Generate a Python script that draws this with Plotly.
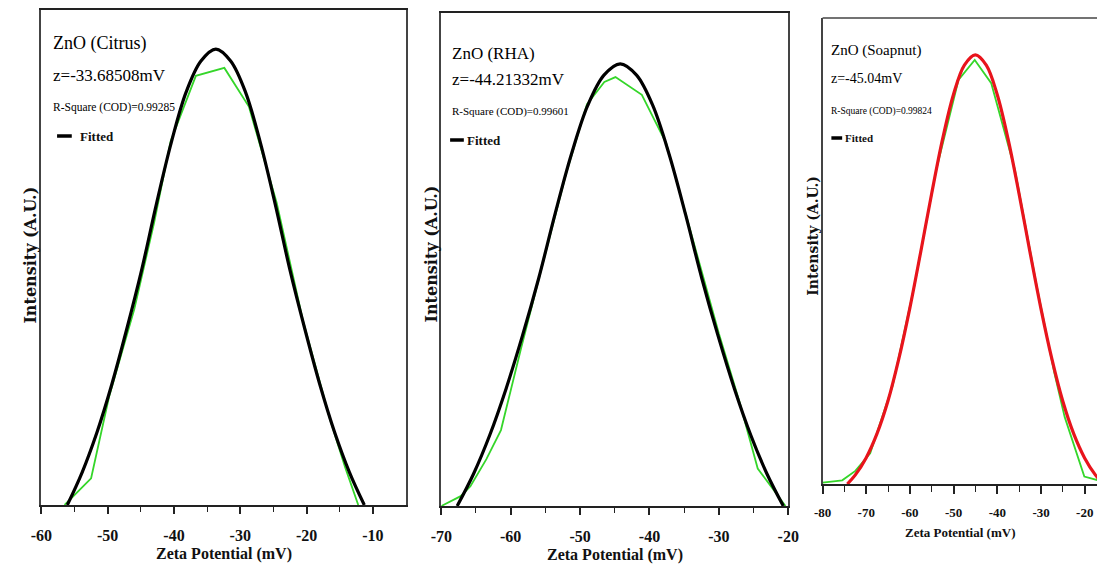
import plotly.graph_objects as go

# ---------------- data ----------------
# ZnO (Citrus): measured zeta distribution and Gaussian fit
citrus_x = [-56.5, -52.5, -49.8, -46.0, -43.0, -40.5, -36.7, -32.4, -28.7, -24.5, -20.5, -16.5, -14.2, -12.2]
citrus_y = [0, 5.4, 21.8, 39.5, 57.0, 73.5, 86.7, 88.3, 80.5, 61.0, 37.0, 17.5, 7.7, 0]
citrus_fit_x = [-56.09, -53.85, -51.61, -49.37, -47.13, -44.89, -42.65, -40.41, -38.17, -35.93, -33.685,
                -31.45, -29.21, -26.97, -24.73, -22.49, -20.25, -18.01, -15.77, -13.53, -11.29]
citrus_fit_y = [0, 6.6, 14.7, 24.4, 35.5, 47.4, 60.8, 73.2, 83.4, 89.7, 92.1,
                89.7, 83.4, 73.2, 60.8, 47.4, 35.5, 24.4, 14.7, 6.6, 0]

# ZnO (RHA)
rha_x = [-70, -67.2, -65.8, -63.5, -61.4, -58.5, -55.5, -52, -49, -46.5, -44.9, -41.1, -37.6, -34, -30, -27, -24.4, -20.4]
rha_y = [0, 2.0, 4.0, 9.5, 15.4, 32, 48.5, 67.5, 81.5, 86.0, 87.0, 83.4, 73.6, 55.5, 35, 21, 7.6, 0]
rha_fit_x = [-67.71, -65.36, -63.01, -60.66, -58.31, -55.96, -53.61, -51.26, -48.91, -46.56, -44.213,
             -41.86, -39.51, -37.16, -34.81, -32.46, -30.11, -27.76, -25.41, -23.06, -20.71]
rha_fit_y = [0, 6.5, 14.4, 23.8, 34.5, 46.2, 59.2, 71.3, 81.2, 87.4, 89.7,
             87.4, 81.2, 71.3, 59.2, 46.2, 34.5, 23.8, 14.4, 6.5, 0]

# ZnO (Soapnut)
soap_x = [-80, -75.5, -72.5, -69.1, -64, -59, -54, -48.9, -45.18, -41.4, -36, -31, -27, -24.6, -20.1, -17]
soap_y = [0.3, 0.8, 2.8, 6.6, 21.0, 42.5, 67.3, 86.7, 91.0, 86.0, 67.5, 42.5, 24.0, 14.4, 1.6, 0.8]
soap_fit_x = [-74.34, -72.54, -70.04, -67.54, -65.04, -62.54, -60.04, -57.54, -55.04, -52.54, -50.04, -47.54,
              -45.04, -42.54, -40.04, -37.54, -35.04, -32.54, -30.04, -27.54, -25.04, -22.54, -20.04, -17.54, -15.74]
soap_fit_y = [0, 1.9, 5.6, 10.8, 17.8, 26.9, 37.7, 49.8, 62.3, 74.0, 83.6, 89.9,
              92.1, 89.9, 83.6, 74.0, 62.3, 49.8, 37.7, 26.9, 17.8, 10.8, 5.6, 1.9, 0]

# axis ticks
ticks1 = [-60, -50, -40, -30, -20, -10]
ticks1_text = ["-60", "-50", "-40", "-30", "-20", "-10"]
ticks2 = [-70, -60, -50, -40, -30, -20]
ticks2_text = ["-70", "-60", "-50", "-40", "-30", "-20"]
ticks3 = [-80, -70, -60, -50, -40, -30, -20]
ticks3_text = ["-80", "-70", "-60", "-50", "-40", "-30", "-20"]

titles = ["ZnO (Citrus)", "ZnO (RHA)", "ZnO (Soapnut)"]
zeta_labels = ["z=-33.68508mV", "z=-44.21332mV", "z=-45.04mV"]
r2_labels = ["R-Square (COD)=0.99285", "R-Square (COD)=0.99601", "R-Square (COD)=0.99824"]

# ---------------- figure ----------------
W, H = 1108, 569
GREEN = "#35d62a"
SERIF = "Liberation Serif"


def px(x):
    return x / W


def py(y):
    return 1 - y / H


fig = go.Figure()

panels = [
    dict(x=citrus_x, y=citrus_y, fx=citrus_fit_x, fy=citrus_fit_y, fit_color="#000000", ax="x", ay="y"),
    dict(x=rha_x, y=rha_y, fx=rha_fit_x, fy=rha_fit_y, fit_color="#000000", ax="x2", ay="y2"),
    dict(x=soap_x, y=soap_y, fx=soap_fit_x, fy=soap_fit_y, fit_color="#e8141c", ax="x3", ay="y3"),
]
for p in panels:
    fig.add_trace(go.Scatter(x=p["x"], y=p["y"], mode="lines", xaxis=p["ax"], yaxis=p["ay"],
                             line=dict(color=GREEN, width=1.8), showlegend=False))
    fig.add_trace(go.Scatter(x=p["fx"], y=p["fy"], mode="lines", xaxis=p["ax"], yaxis=p["ay"],
                             line=dict(color=p["fit_color"], width=3.2, shape="spline", smoothing=1),
                             showlegend=False))

# panel frames in pixels: (left, right, top, bottom)
frames = [(31, 403, 10, 505), (439, 793, 13, 506), (828, 1108, 18, 484)]


def xaxis_cfg(frame, rng, tv, tt, minor_vals, fsize, tlen, standoff, mirror=True):
    l, r, t, b = frame
    return dict(domain=[px(l), px(r)], range=rng, tickmode="array", tickvals=tv, ticktext=tt,
                ticks="outside", ticklen=tlen, tickwidth=1.5, tickcolor="#222",
                minor=dict(tickmode="array", tickvals=minor_vals, ticks="outside", ticklen=tlen - 2,
                           tickwidth=1.2, tickcolor="#222"),
                showline=True, linecolor="#222", linewidth=2, mirror=mirror,
                showgrid=False, zeroline=False, ticklabelstandoff=standoff,
                tickfont=dict(family=SERIF, size=fsize, color="#111", weight="bold"))


def yaxis_cfg(frame, mirror=True):
    l, r, t, b = frame
    return dict(domain=[py(b), py(t)], range=[0, 100], showticklabels=False, ticks="",
                showline=True, linecolor="#444", linewidth=1.5, mirror=mirror,
                showgrid=False, zeroline=False)


fig.update_layout(
    width=W, height=H, margin=dict(l=0, r=0, t=0, b=0),
    paper_bgcolor="white", plot_bgcolor="white",
    xaxis=xaxis_cfg(frames[0], [-60, -5], ticks1, ticks1_text, [-55, -45, -35, -25, -15], 16, 7, 8),
    yaxis=yaxis_cfg(frames[0]),
    xaxis2=dict(anchor="y2", **xaxis_cfg(frames[1], [-70, -20], ticks2, ticks2_text,
                                          [-65, -55, -45, -35, -25], 16, 7, 8)),
    yaxis2=dict(anchor="x2", **yaxis_cfg(frames[1])),
    # the third panel runs off the right edge: bottom and left lines only, top drawn as a shape
    xaxis3=dict(anchor="y3", **xaxis_cfg(frames[2], [-80, -17.2], ticks3, ticks3_text,
                                          [-75, -65, -55, -45, -35, -25], 13, 8, 7, mirror=False)),
    yaxis3=dict(anchor="x3", **yaxis_cfg(frames[2], mirror=False)),
)

annotations = []
shapes = [dict(type="line", xref="x3 domain", yref="y3 domain", x0=0, x1=1, y0=1, y1=1,
               line=dict(color="#444", width=1.5))]

# axis titles
xt = [(217, 554, 16), (616, 555, 16), (968, 532, 13)]
yt = [(19, 255, 16), (428, 254, 16), (818, 236, 14)]
for (x, y, s) in xt:
    annotations.append(dict(x=px(x), y=py(y), xref="paper", yref="paper", text="Zeta Potential (mV)",
                            showarrow=False, xanchor="center", yanchor="middle",
                            font=dict(family=SERIF, size=s, color="#111", weight="bold")))
for (x, y, s) in yt:
    annotations.append(dict(x=px(x), y=py(y), xref="paper", yref="paper", text="Intensity (A.U.)",
                            textangle=-90, showarrow=False, xanchor="center", yanchor="middle",
                            font=dict(family="DejaVu Serif", size=s, color="#111", weight="bold")))

# in-panel labels and the short "Fitted" key line
info = [
    dict(x=41, ty=43, zy=75, ry=108, fy=136, ts=18, zs=17, rs=11.5, fs=13, lx0=47, lx1=62, tx=68),
    dict(x=448, ty=53, zy=80, ry=111, fy=140, ts=17, zs=17, rs=11, fs=13, lx0=448, lx1=462, tx=463),
    dict(x=835, ty=50, zy=78, ry=111, fy=138, ts=15, zs=14, rs=9.5, fs=11, lx0=837, lx1=848, tx=849),
]
for i, d in enumerate(info):
    for text, yy, size in [(titles[i], d["ty"], d["ts"]), (zeta_labels[i], d["zy"], d["zs"]),
                           (r2_labels[i], d["ry"], d["rs"])]:
        annotations.append(dict(x=px(d["x"]), y=py(yy), xref="paper", yref="paper", text=text,
                                showarrow=False, xanchor="left", yanchor="middle",
                                font=dict(family=SERIF, size=size, color="#000")))
    annotations.append(dict(x=px(d["tx"]), y=py(d["fy"]), xref="paper", yref="paper", text="Fitted",
                            showarrow=False, xanchor="left", yanchor="middle",
                            font=dict(family=SERIF, size=d["fs"], color="#111", weight="bold")))
    shapes.append(dict(type="line", xref="paper", yref="paper", x0=px(d["lx0"]), x1=px(d["lx1"]),
                       y0=py(d["fy"]), y1=py(d["fy"]), line=dict(color="#000", width=3.5)))

fig.update_layout(annotations=annotations, shapes=shapes)

# keep the page flush with the figure (no default body margin / scrollbars)
fig.write_html("out.html",
               post_script="document.body.style.margin='0';document.body.style.overflow='hidden';")
